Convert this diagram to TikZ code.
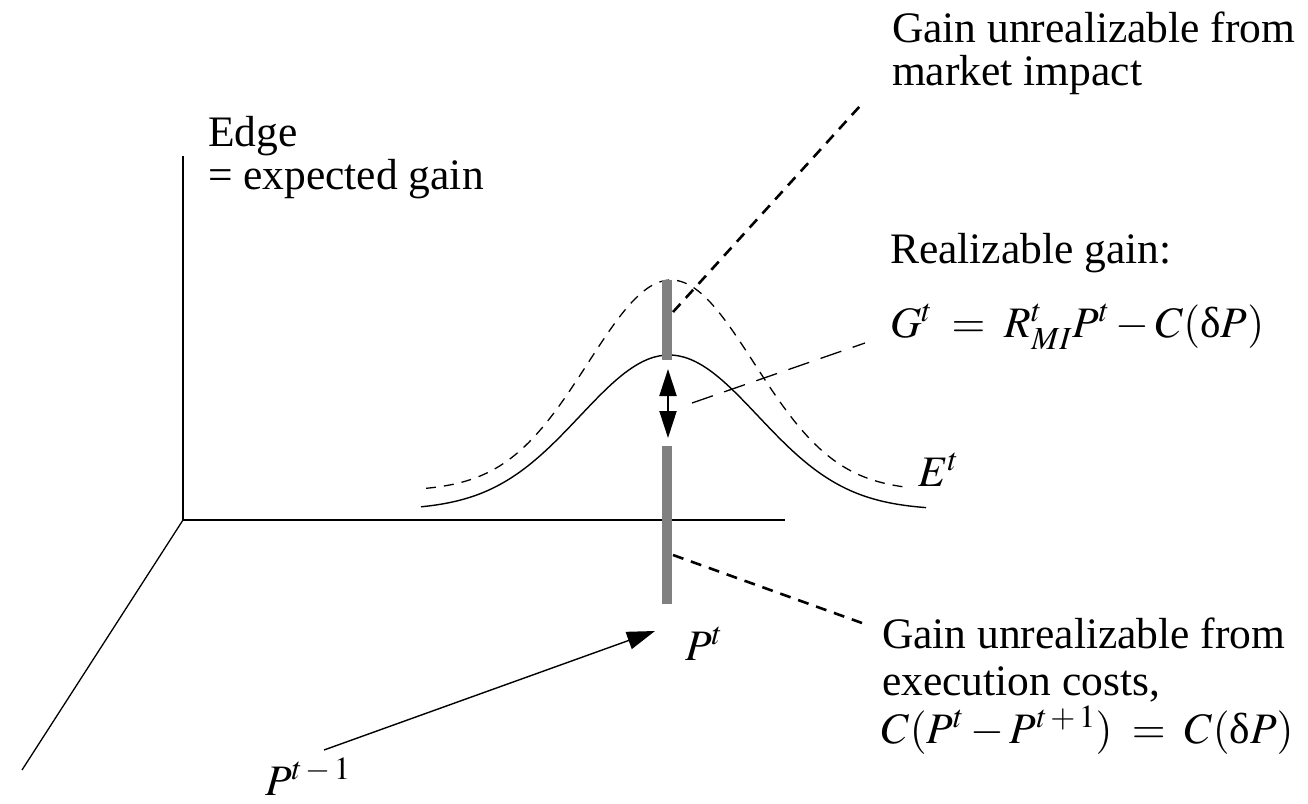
\documentclass[tikz,border=0pt]{standalone}
\usepackage{mathptmx}
\usepackage{fontspec}
\setmainfont{Liberation Serif}
\usetikzlibrary{arrows.meta}
\tikzset{
  lbl/.style={anchor=base west,inner sep=0pt,outer sep=0pt},
  axisline/.style={line width=1.3pt},
  curveline/.style={line width=1.4pt},
  thickleader/.style={line width=2.6pt,dash pattern=on 11pt off 8pt},
  thinleader/.style={line width=1.3pt,dash pattern=on 22pt off 12pt},
  dashcurve/.style={line width=1.3pt,dash pattern=on 10pt off 8pt},
  graybar/.style={line width=10pt,draw=barg},
}
\definecolor{barg}{RGB}{128,128,128}
\begin{document}
\begin{tikzpicture}[x=1pt,y=-1pt,font=\fontsize{43.5}{50}\selectfont]
\useasboundingbox (0,0) rectangle (1308,803);
% axes
\coordinate (O) at (183,520);
\coordinate (ytop) at (183,156);
\coordinate (xend) at (785,520);
\coordinate (zend) at (22,770);
\draw[axisline] (ytop) -- (O) -- (xend);
\draw[axisline] (O) -- (zend);
% curves
\draw[curveline] plot[domain=421:926,samples=120,smooth] (\x,{510-155*exp(-((\x-669)/89)^2/2)});
\draw[dashcurve] plot[domain=426:904,samples=120,smooth] (\x,{491-211*exp(-((\x-671)/83)^2/2)});
% bars
\coordinate (b1t) at (667,280);
\coordinate (b1b) at (667,360);
\coordinate (b2t) at (667,446);
\coordinate (b2b) at (667,604);
\draw[graybar] (b1t) -- (b1b);
\draw[graybar] (b2t) -- (b2b);
% double arrow
\coordinate (da1) at (668,369);
\coordinate (da2) at (668,438);
\draw[line width=2pt,{Triangle[length=27pt,width=17pt]}-{Triangle[length=27pt,width=17pt]}] (da1) -- (da2);
% labels
\node[lbl] (edge1) at (208,146) {Edge};
\node[lbl] (edge2) at (208,189) {= expected gain};
\node[lbl] (mi1) at (892,42) {Gain unrealizable from};
\node[lbl] (mi2) at (892,85) {market impact};
\node[lbl] (rg1) at (890,263) {Realizable gain:};
\node[lbl] (rg2) at (890,337) {$G^t\;=\;R^t_{MI}P^t - C(\mbox{δ}P)$};
\node[lbl] (Et) at (918,486) {$E^t$};
\node[lbl] (Pt) at (685,660) {$P^t$};
\node[lbl] (Pt1) at (265,795) {$P^{t\,-\,1}$};
\node[lbl] (ec1) at (882,648) {Gain unrealizable from};
\node[lbl] (ec2) at (882,695) {execution costs,};
\node[lbl] (ec3) at (882,743) {$C(P^t - P^{t\,+\,1})\;=\;C(\mbox{δ}P)$};
% leaders
\coordinate (miA) at (673,312);
\coordinate (miB) at (860,106);
\draw[thickleader] (miA) -- (miB);
\coordinate (gA) at (692,403);
\coordinate (gB) at (865,343);
\draw[thinleader] (gA) -- (gB);
\coordinate (eA) at (673,555);
\coordinate (eB) at (862,623);
\draw[thickleader] (eA) -- (eB);
% P arrow
\coordinate (pa1) at (324,750);
\coordinate (pa2) at (655,631);
\draw[line width=1.4pt,-{Triangle[length=28pt,width=18pt]}] (pa1) -- (pa2);
\end{tikzpicture}
\end{document}
